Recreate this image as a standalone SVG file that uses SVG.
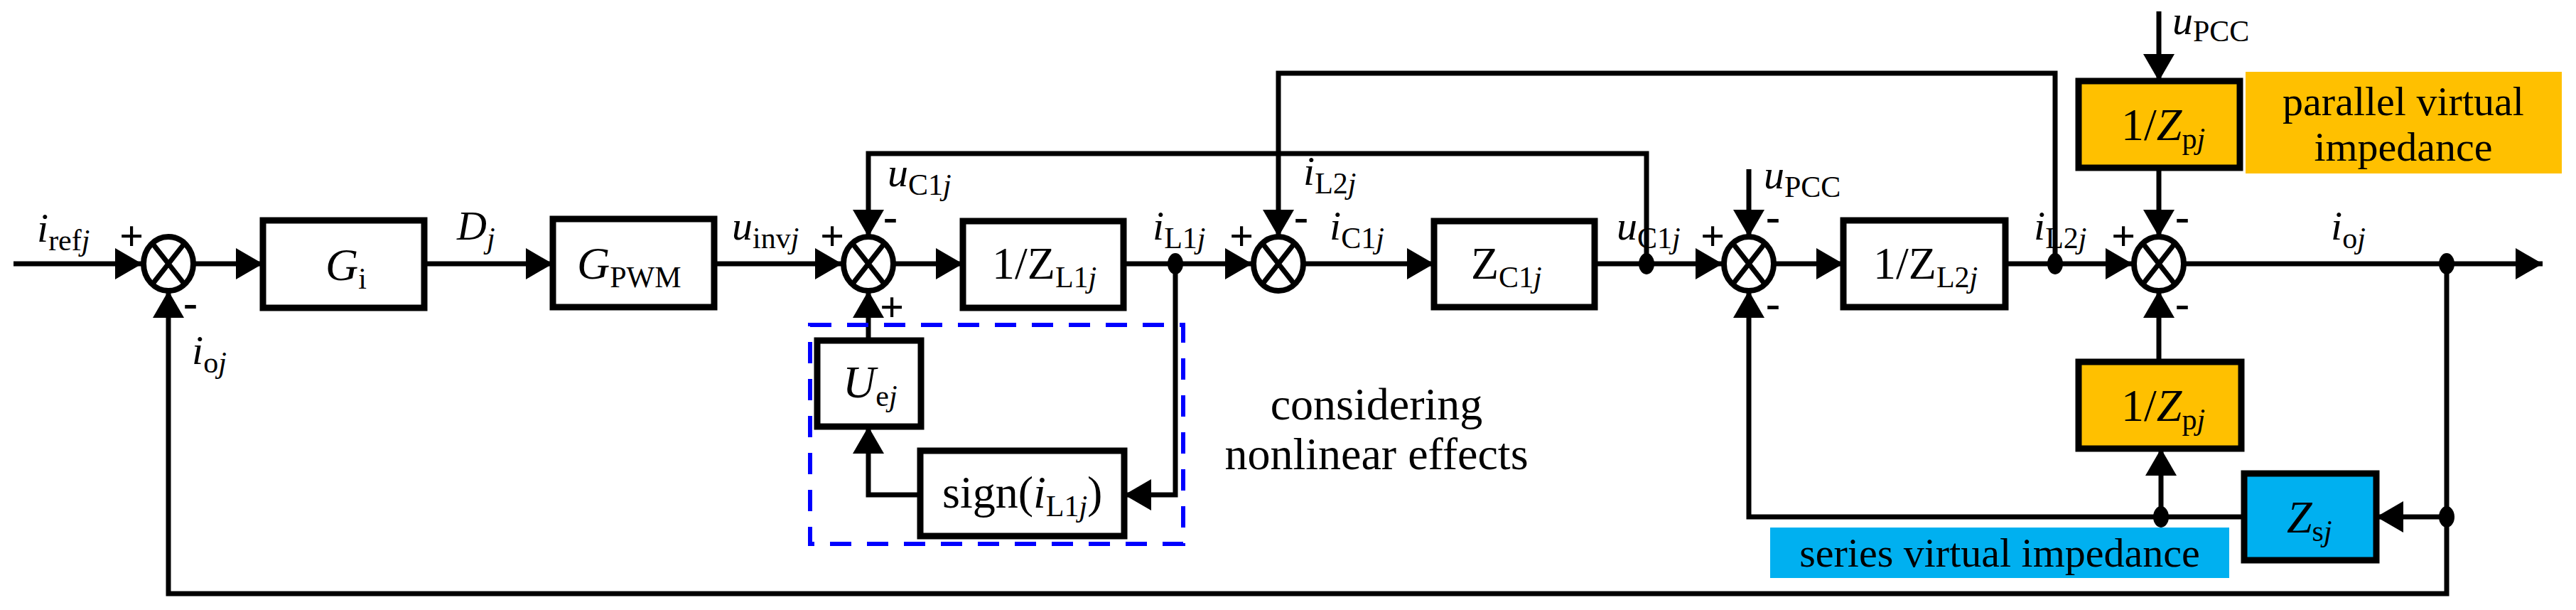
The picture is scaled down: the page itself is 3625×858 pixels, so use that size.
<svg xmlns="http://www.w3.org/2000/svg" width="3625" height="858" viewBox="0 0 3625 858" font-family="Liberation Serif, DejaVu Serif, Times New Roman, serif">
<defs>
<marker id="ar" markerUnits="userSpaceOnUse" markerWidth="40" markerHeight="44" refX="38" refY="22" orient="auto"><path d="M0,0 L38,22 L0,44 Z" fill="#000"/></marker>
<g id="sum"><ellipse cx="0" cy="0" rx="35" ry="38" fill="#fff" stroke="#000" stroke-width="8"/><path d="M-22,-28 L22,28 M22,-28 L-22,28" stroke="#000" stroke-width="7"/></g>
</defs>
<style>
.w{fill:none;stroke:#000;stroke-width:7}
.b{fill:#fff;stroke:#000;stroke-width:9}
.y{fill:#FFC000;stroke:#000;stroke-width:9}
.c{fill:#00B0F0;stroke:#000;stroke-width:9}
text{font-family:"Liberation Serif","DejaVu Serif","Times New Roman",serif;fill:#000}
.t{font-size:64px}
.m{font-size:58px}
.l{font-size:58px}
.sg{font-size:60px;font-weight:bold}
.sub{font-size:42px}
</style>
<rect width="3625" height="858" fill="#fff"/>
<g id="connectors">
<path class="w" d="M19,371 H200" marker-end="url(#ar)"/>
<path class="w" d="M272,371 H370" marker-end="url(#ar)"/>
<path class="w" d="M597,371 H778" marker-end="url(#ar)"/>
<path class="w" d="M1005,371 H1185" marker-end="url(#ar)"/>
<path class="w" d="M1257,371 H1355" marker-end="url(#ar)"/>
<path class="w" d="M1581,371 H1762" marker-end="url(#ar)"/>
<path class="w" d="M1834,371 H2018" marker-end="url(#ar)"/>
<path class="w" d="M2244,371 H2424" marker-end="url(#ar)"/>
<path class="w" d="M2496,371 H2594" marker-end="url(#ar)"/>
<path class="w" d="M2822,371 H3001" marker-end="url(#ar)"/>
<path class="w" d="M3073,371 H3578" marker-end="url(#ar)"/>
<path class="w" d="M2317,371 V216 H1222 V333" marker-end="url(#ar)"/>
<path class="w" d="M2892,371 V103 H1799 V333" marker-end="url(#ar)"/>
<path class="w" d="M1222,479 V409" marker-end="url(#ar)"/>
<path class="w" d="M1295,696 H1222 V600" marker-end="url(#ar)"/>
<path class="w" d="M1654,371 V696 H1582" marker-end="url(#ar)"/>
<path class="w" d="M2461,238 V333" marker-end="url(#ar)"/>
<path class="w" d="M3038,16 V114" marker-end="url(#ar)"/>
<path class="w" d="M3038,236 V333" marker-end="url(#ar)"/>
<path class="w" d="M3038,509 V409" marker-end="url(#ar)"/>
<path class="w" d="M3041,727 V631" marker-end="url(#ar)"/>
<path class="w" d="M3443,371 V835 H237 V409" marker-end="url(#ar)"/>
<path class="w" d="M3443,727 H3344" marker-end="url(#ar)"/>
<path class="w" d="M3158,727 H2461 V409" marker-end="url(#ar)"/>
<g fill="#000">
<ellipse cx="1654" cy="371" rx="11" ry="15"/>
<ellipse cx="2317" cy="371" rx="11" ry="15"/>
<ellipse cx="2892" cy="371" rx="11" ry="15"/>
<ellipse cx="3443" cy="371" rx="11" ry="15"/>
<ellipse cx="3443" cy="727" rx="11" ry="15"/>
<ellipse cx="3041" cy="727" rx="11" ry="15"/>
</g>
</g>
<g id="sum1"><use href="#sum" x="237" y="371"/><text class="sg" x="168" y="352">+</text><text class="sg" x="258" y="445">-</text></g>
<g id="sum2"><use href="#sum" x="1222" y="371"/><text class="sg" x="1154" y="352">+</text><text class="sg" x="1243" y="324">-</text><text class="sg" x="1238" y="452">+</text></g>
<g id="sum3"><use href="#sum" x="1799" y="371"/><text class="sg" x="1730" y="352">+</text><text class="sg" x="1821" y="324">-</text></g>
<g id="sum4"><use href="#sum" x="2461" y="371"/><text class="sg" x="2393" y="352">+</text><text class="sg" x="2485" y="324">-</text><text class="sg" x="2485" y="446">-</text></g>
<g id="sum5"><use href="#sum" x="3038" y="371"/><text class="sg" x="2971" y="352">+</text><text class="sg" x="3061" y="324">-</text><text class="sg" x="3061" y="446">-</text></g>
<g id="Gi"><rect class="b" x="370" y="310" width="227" height="123"/><text class="t" x="458" y="394"><tspan font-style="italic">G</tspan><tspan class="sub" dy="12">i</tspan></text></g>
<g id="GPWM"><rect class="b" x="778" y="308" width="227" height="124"/><text class="t" x="812" y="392"><tspan font-style="italic">G</tspan><tspan class="sub" dy="12">PWM</tspan></text></g>
<g id="ZL1"><rect class="b" x="1355" y="311" width="226" height="122"/><text class="t" x="1396" y="392">1/Z<tspan class="sub" dy="12">L1<tspan font-style="italic">j</tspan></tspan></text></g>
<g id="ZC1"><rect class="b" x="2018" y="311" width="226" height="121"/><text class="t" x="2070" y="392">Z<tspan class="sub" dy="12">C1<tspan font-style="italic">j</tspan></tspan></text></g>
<g id="ZL2"><rect class="b" x="2594" y="310" width="228" height="122"/><text class="t" x="2636" y="392">1/Z<tspan class="sub" dy="12">L2<tspan font-style="italic">j</tspan></tspan></text></g>
<g id="Zp1"><rect class="y" x="2925" y="114" width="227" height="122"/><text class="t" x="2985" y="197">1/<tspan font-style="italic">Z</tspan><tspan class="sub" dy="12">p<tspan font-style="italic">j</tspan></tspan></text></g>
<g id="Zp2"><rect class="y" x="2925" y="509" width="229" height="122"/><text class="t" x="2985" y="592">1/<tspan font-style="italic">Z</tspan><tspan class="sub" dy="12">p<tspan font-style="italic">j</tspan></tspan></text></g>
<g id="Zs"><rect class="c" x="3158" y="666" width="186" height="122"/><text class="t" x="3218" y="749"><tspan font-style="italic">Z</tspan><tspan class="sub" dy="12">s<tspan font-style="italic">j</tspan></tspan></text></g>
<g id="Uej"><rect class="b" x="1150" y="479" width="146" height="121"/><text class="t" x="1186" y="559"><tspan font-style="italic">U</tspan><tspan class="sub" dy="12">e<tspan font-style="italic">j</tspan></tspan></text></g>
<g id="sign"><rect class="b" x="1295" y="634" width="287" height="120"/><text class="t" x="1326" y="714">sign(<tspan font-style="italic">i</tspan><tspan class="sub" dy="12">L1<tspan font-style="italic">j</tspan></tspan><tspan dy="-12">)</tspan></text></g>
<g id="nonlinear"><rect x="1140" y="457" width="525" height="308" fill="none" stroke="#0000FF" stroke-width="6" stroke-dasharray="30,22"/><text class="t" x="1937" y="590" text-anchor="middle">considering</text><text class="t" x="1937" y="660" text-anchor="middle">nonlinear effects</text></g>
<g id="parallelLabel"><rect x="3160" y="101" width="445" height="143" fill="#FFC000"/><text class="m" x="3382" y="162" text-anchor="middle">parallel virtual</text><text class="m" x="3382" y="226" text-anchor="middle">impedance</text></g>
<g id="seriesLabel"><rect x="2491" y="742" width="646" height="71" fill="#00B0F0"/><text class="m" x="2814" y="797" text-anchor="middle">series virtual impedance</text></g>
<g id="labels">
<text x="52" y="340" class="l"><tspan font-style="italic">i</tspan><tspan class="sub" dy="12">ref<tspan font-style="italic">j</tspan></tspan></text>
<text x="270" y="512" class="l"><tspan font-style="italic">i</tspan><tspan class="sub" dy="12">o<tspan font-style="italic">j</tspan></tspan></text>
<text x="643" y="337" class="l"><tspan font-style="italic">D</tspan><tspan class="sub" dy="12" font-style="italic">j</tspan></text>
<text x="1030" y="337" class="l"><tspan font-style="italic">u</tspan><tspan class="sub" dy="12">inv<tspan font-style="italic">j</tspan></tspan></text>
<text x="1249" y="262" class="l"><tspan font-style="italic">u</tspan><tspan class="sub" dy="12">C1<tspan font-style="italic">j</tspan></tspan></text>
<text x="1834" y="260" class="l"><tspan font-style="italic">i</tspan><tspan class="sub" dy="12">L2<tspan font-style="italic">j</tspan></tspan></text>
<text x="1622" y="337" class="l"><tspan font-style="italic">i</tspan><tspan class="sub" dy="12">L1<tspan font-style="italic">j</tspan></tspan></text>
<text x="1871" y="337" class="l"><tspan font-style="italic">i</tspan><tspan class="sub" dy="12">C1<tspan font-style="italic">j</tspan></tspan></text>
<text x="2275" y="337" class="l"><tspan font-style="italic">u</tspan><tspan class="sub" dy="12">C1<tspan font-style="italic">j</tspan></tspan></text>
<text x="2482" y="265" class="l"><tspan font-style="italic">u</tspan><tspan class="sub" dy="12">PCC</tspan></text>
<text x="2862" y="337" class="l"><tspan font-style="italic">i</tspan><tspan class="sub" dy="12">L2<tspan font-style="italic">j</tspan></tspan></text>
<text x="3057" y="48" class="l"><tspan font-style="italic">u</tspan><tspan class="sub" dy="10">PCC</tspan></text>
<text x="3280" y="337" class="l"><tspan font-style="italic">i</tspan><tspan class="sub" dy="12">o<tspan font-style="italic">j</tspan></tspan></text>
</g>
</svg>
